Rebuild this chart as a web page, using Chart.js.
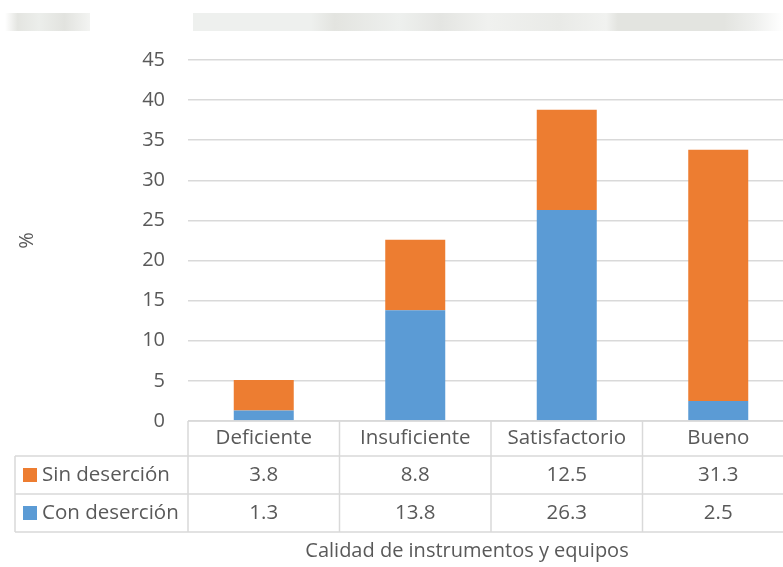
<!DOCTYPE html>
<html>
<head>
<meta charset="utf-8">
<script src="https://cdn.jsdelivr.net/npm/chart.js@4"></script>
<style>
  html, body { margin: 0; padding: 0; background: #fff; overflow: hidden; }
  #wrap { position: relative; width: 783px; height: 567px; overflow: hidden; }
  .band { position: absolute; top: 13px; height: 18px; }
  canvas { position: absolute; left: 0; top: 0; }
</style>
</head>
<body>
<div id="wrap">
  <div class="band" style="left:5px;width:85px;background:linear-gradient(90deg,#fff 0%,#e4e5e1 15%,#eceeeb 40%,#e2e3df 70%,#f3f4f2 100%)"></div>
  <div class="band" style="left:193px;width:590px;background:linear-gradient(90deg,#eef0ee 0%,#eef0ee 20%,#e3e4e0 24%,#eef0ee 35%,#e4e5e2 42%,#f0f1ef 50%,#e9eae7 62%,#f1f2f0 70%,#e3e4e0 72%,#e3e4e0 90%,#eeefed 95%,#fff 100%)"></div>
  <canvas id="chart" width="800" height="567" style="width:800px;height:567px"></canvas>
</div>
<script>
const categories = ["Deficiente", "Insuficiente", "Satisfactorio", "Bueno"];
const sinDesercion = [3.8, 8.8, 12.5, 31.3];
const conDesercion = [1.3, 13.8, 26.3, 2.5];
const yTicks = [0, 5, 10, 15, 20, 25, 30, 35, 40, 45];

const FONT = "'Open Sans', 'Noto Sans', sans-serif";
const TEXT = "#595959";
const LINE = "#d9d9d9";

// table under the plot, like the Excel data table
const dataTable = {
    id: "dataTable",
    afterDraw(chart) {
        const ctx = chart.ctx;
        const area = chart.chartArea;
        const x = chart.scales.x;
        const colW = x.getPixelForValue(1) - x.getPixelForValue(0);
        const rows = [area.bottom, area.bottom + 35, area.bottom + 73, area.bottom + 111];
        const left = 15;
        const right = area.right;

        ctx.save();
        ctx.strokeStyle = LINE;
        ctx.lineWidth = 1.5;
        ctx.beginPath();
        // horizontal lines
        ctx.moveTo(area.left, rows[0]); ctx.lineTo(right, rows[0]);
        for (let r = 1; r < rows.length; r++) {
            ctx.moveTo(left, rows[r]); ctx.lineTo(right, rows[r]);
        }
        // vertical lines
        ctx.moveTo(left, rows[1]); ctx.lineTo(left, rows[3]);
        for (let i = 0; i <= categories.length; i++) {
            const vx = x.getPixelForValue(i) - colW / 2;
            ctx.moveTo(vx, rows[0]); ctx.lineTo(vx, rows[3]);
        }
        ctx.stroke();

        ctx.fillStyle = TEXT;
        ctx.font = "20.5px " + FONT;
        ctx.textAlign = "center";
        ctx.textBaseline = "middle";
        categories.forEach((c, i) => {
            const cx = x.getPixelForValue(i);
            ctx.fillText(c, cx, (rows[0] + rows[1]) / 2);
            ctx.fillText(sinDesercion[i].toFixed(1), cx, (rows[1] + rows[2]) / 2);
            ctx.fillText(conDesercion[i].toFixed(1), cx, (rows[2] + rows[3]) / 2);
        });

        // legend keys in first column
        const keys = [["Sin deserción", "#ed7d31"], ["Con deserción", "#5b9bd5"]];
        keys.forEach((k, r) => {
            const cy = (rows[r + 1] + rows[r + 2]) / 2;
            ctx.fillStyle = k[1];
            ctx.fillRect(23, cy - 7, 14, 14);
            ctx.fillStyle = TEXT;
            ctx.textAlign = "left";
            ctx.fillText(k[0], 42, cy);
        });

        ctx.font = "20px " + FONT;
        ctx.textAlign = "center";
        ctx.fillText("Calidad de instrumentos y equipos", 467, 551);
        ctx.restore();
    }
};

new Chart(document.getElementById("chart"), {
    type: "bar",
    data: {
        labels: categories,
        datasets: [{
            label: "Con deserción",
            data: conDesercion,
            backgroundColor: "#5b9bd5",
            borderWidth: 0
        }, {
            label: "Sin deserción",
            data: sinDesercion,
            backgroundColor: "#ed7d31",
            borderWidth: 0
        }]
    },
    options: {
        responsive: false,
        animation: false,
        layout: { padding: { top: 60, bottom: 138, right: 6, left: 0 } },
        plugins: { legend: { display: false }, tooltip: { enabled: false } },
        datasets: { bar: { categoryPercentage: 1, barPercentage: 0.396 } },
        scales: {
            x: {
                stacked: true,
                ticks: { display: false },
                grid: { display: false },
                border: { display: false }
            },
            y: {
                stacked: true,
                min: 0,
                max: 45,
                afterBuildTicks(scale) {
                    scale.ticks = yTicks.map(v => ({ value: v }));
                },
                afterFit(scale) { scale.width = 188; },
                ticks: {
                    color: TEXT,
                    font: { family: FONT, size: 20 },
                    padding: 23
                },
                grid: { color: LINE, lineWidth: 1.5, drawTicks: false },
                border: { display: false },
                title: {
                    display: true,
                    text: "%",
                    color: TEXT,
                    font: { family: FONT, size: 20 },
                    padding: { top: 15, bottom: 15 }
                }
            }
        }
    },
    plugins: [dataTable]
});
</script>
</body>
</html>
